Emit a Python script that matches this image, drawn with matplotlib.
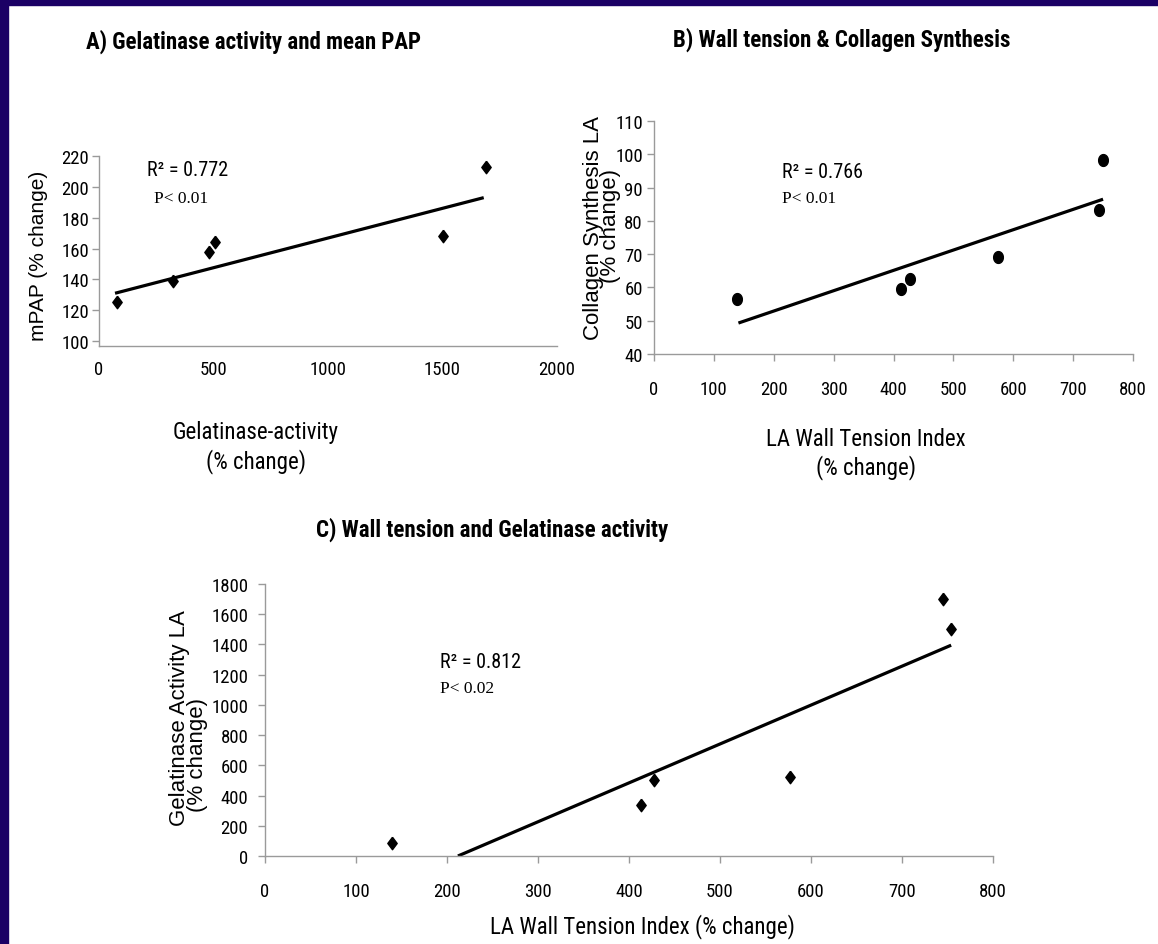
import matplotlib
matplotlib.use("Agg")
import matplotlib.pyplot as plt
import numpy as np
from matplotlib import font_manager
from matplotlib.font_manager import FontProperties
from matplotlib.patches import Rectangle

# ---- data ----
# A) Gelatinase activity vs mean PAP
gel_a = [80, 325, 480, 505, 1500, 1690]
mpap_a = [125.5, 139, 158, 164, 168, 213]
fit_x_a = [70, 1680]
fit_y_a = [131, 193]

# B) Wall tension vs collagen synthesis
wt_b = [138, 412, 427, 575, 743, 750]
coll_b = [56.5, 59.5, 62.5, 69.2, 83.2, 98.3]
fit_x_b = [141, 750]
fit_y_b = [49.3, 86.5]

# C) Wall tension vs gelatinase activity
wt_c = [140, 413, 428, 577, 745, 754]
gel_c = [85, 340, 500, 520, 1700, 1500]
fit_x_c = [212, 754]
fit_y_c = [0, 1395]

ticks_a_x = [0, 500, 1000, 1500, 2000]
ticks_a_y = [100, 120, 140, 160, 180, 200, 220]
ticks_b_x = [0, 100, 200, 300, 400, 500, 600, 700, 800]
ticks_b_y = [40, 50, 60, 70, 80, 90, 100, 110]
ticks_c_x = ticks_b_x
ticks_c_y = [0, 200, 400, 600, 800, 1000, 1200, 1400, 1600, 1800]


# ---- fonts: look for a condensed sans, else fall back to Liberation Sans ----
def _stretch(f):
  s = f.stretch
  if isinstance(s, str):
    return font_manager.stretch_dict.get(s, 500)
  return s


def _weight(f):
  w = f.weight
  if isinstance(w, str):
    return font_manager.weight_dict.get(w, 400)
  return w


def find_narrow(bold):
  prio = ["Liberation Sans Narrow", "Arial Narrow", "Roboto Condensed",
          "Open Sans Condensed", "Noto Sans", "DejaVu Sans", "Open Sans"]
  best, best_key = None, None
  for f in font_manager.fontManager.ttflist:
    nm, fn = f.name, f.fname
    narrow = (_stretch(f) < 500 or "Narrow" in nm or "Condensed" in nm
              or "Narrow" in fn or "Condensed" in fn)
    if not narrow or "Mono" in nm or "Serif" in nm or f.style != "normal":
      continue
    if "CJK" in nm or "Extra" in fn or "Ultra" in fn:
      continue
    if (_weight(f) >= 600) != bold:
      continue
    p = prio.index(nm) if nm in prio else len(prio)
    key = (p, abs(_stretch(f) - 300), abs(_weight(f) - (700 if bold else 400)))
    if best_key is None or key < best_key:
      best, best_key = f, key
  return best.fname if best is not None else None


_nr = find_narrow(False)
_nb = find_narrow(True)
HAVE_NARROW = _nr is not None


def narrow(size, bold=False):
  if bold and _nb is not None:
    return FontProperties(fname=_nb, size=size)
  if not bold and _nr is not None:
    return FontProperties(fname=_nr, size=size)
  return FontProperties(family="Liberation Sans", size=size * 0.86,
                        weight="bold" if bold else "normal")


def sans(size):
  return FontProperties(family="Liberation Sans", size=size)


def serif(size):
  return FontProperties(family="Liberation Serif", size=size)


NAVY = "#1b0065"
SPINE = "#9a9a9a"
TICK_SIZE = 13.5
LABEL_SIZE = 16.5

W, H = 1158, 945
fig = plt.figure(figsize=(W / 100, H / 100), dpi=100)
fig.patch.set_facecolor("white")

# slide border (top and left only)
fig.patches.append(Rectangle((0, 1 - 6 / H), 1, 6 / H, transform=fig.transFigure,
                             color=NAVY, zorder=10))
fig.patches.append(Rectangle((0, 0), 8 / W, 1, transform=fig.transFigure,
                             color=NAVY, zorder=10))

DIAMOND = [(0, 1), (0.75, 0), (0, -1), (-0.75, 0), (0, 1)]
_t = np.linspace(0, 2 * np.pi, 40)
OVAL = list(zip(0.82 * np.cos(_t), np.sin(_t)))


def px_axes(left, right, top, bottom):
  return fig.add_axes([left / W, 1 - bottom / H, (right - left) / W, (bottom - top) / H])


def ftext(x, y, s, fp, **kw):
  fig.text(x / W, 1 - y / H, s, fontproperties=fp, **kw)


def style(ax, xpad, ypad, xlen=5):
  for s in ("top", "right"):
    ax.spines[s].set_visible(False)
  for s in ("left", "bottom"):
    ax.spines[s].set_color(SPINE)
    ax.spines[s].set_linewidth(1.0)
  ax.tick_params(axis="x", direction="out", length=xlen, width=1, color=SPINE, pad=xpad)
  ax.tick_params(axis="y", direction="out", length=5, width=1, color=SPINE, pad=ypad)
  for lab in ax.get_xticklabels() + ax.get_yticklabels():
    lab.set_fontproperties(narrow(TICK_SIZE))


# ---------------- A ----------------
axA = px_axes(99, 557, 157, 347)
axA.plot(fit_x_a, fit_y_a, color="black", lw=2.3, solid_capstyle="butt", zorder=2)
axA.plot(gel_a, mpap_a, linestyle="none", marker=DIAMOND, ms=9, color="black", zorder=3)
axA.set_xlim(0, 2000)
axA.set_ylim(96.8, 220)
axA.set_xticks(ticks_a_x)
axA.set_yticks(ticks_a_y)
style(axA, xpad=10, ypad=2, xlen=0)
axA.text(210, 211, "R\u00b2 = 0.772", fontproperties=narrow(14.5), va="center")
axA.text(240, 193, "P< 0.01", fontproperties=serif(12.5), va="center")

ftext(86, 42, "A) Gelatinase activity and mean PAP", narrow(16.5, bold=True),
      va="center", ha="left")
ftext(38, 256, "mPAP (% change)", sans(15), rotation=90, ha="center", va="center")
ftext(256, 433, "Gelatinase-activity", narrow(LABEL_SIZE), ha="center", va="center")
ftext(256, 462, "(% change)", narrow(LABEL_SIZE), ha="center", va="center")

# ---------------- B ----------------
axB = px_axes(654, 1133, 122, 355)
axB.plot(fit_x_b, fit_y_b, color="black", lw=2.3, solid_capstyle="butt", zorder=2)
axB.plot(wt_b, coll_b, linestyle="none", marker=OVAL, ms=8.5, color="black", zorder=3)
axB.set_xlim(0, 800)
axB.set_ylim(40, 110)
axB.set_xticks(ticks_b_x)
axB.set_yticks(ticks_b_y)
style(axB, xpad=14, ypad=3)
axB.text(214, 94.7, "R\u00b2 = 0.766", fontproperties=narrow(14.5), va="center")
axB.text(214, 87, "P< 0.01", fontproperties=serif(12.5), va="center")

ftext(673, 40, "B) Wall tension & Collagen Synthesis", narrow(16.5, bold=True),
      va="center", ha="left")
ftext(593, 228, "Collagen Synthesis LA", sans(16), rotation=90, ha="center", va="center")
ftext(611, 226, "(% change)", sans(16), rotation=90, ha="center", va="center")
ftext(866, 440, "LA Wall Tension Index", narrow(LABEL_SIZE), ha="center", va="center")
ftext(866, 468, "(% change)", narrow(LABEL_SIZE), ha="center", va="center")

# ---------------- C ----------------
axC = px_axes(265, 993, 585, 857)
axC.plot(fit_x_c, fit_y_c, color="black", lw=2.3, solid_capstyle="butt", zorder=2)
axC.plot(wt_c, gel_c, linestyle="none", marker=DIAMOND, ms=9, color="black", zorder=3)
axC.set_xlim(0, 800)
axC.set_ylim(0, 1800)
axC.set_xticks(ticks_c_x)
axC.set_yticks(ticks_c_y)
style(axC, xpad=14, ypad=7)
axC.text(192, 1290, "R\u00b2 = 0.812", fontproperties=narrow(14.5), va="center")
axC.text(192, 1110, "P< 0.02", fontproperties=serif(12.5), va="center")

ftext(316, 530, "C) Wall tension and Gelatinase activity", narrow(16.5, bold=True),
      va="center", ha="left")
ftext(179, 718, "Gelatinase Activity LA", sans(16), rotation=90, ha="center", va="center")
ftext(197, 755, "(% change)", sans(16), rotation=90, ha="center", va="center")
ftext(642, 927, "LA Wall Tension Index (% change)", narrow(LABEL_SIZE),
      ha="center", va="center")

fig.savefig("out.png", dpi=100, facecolor="white")
